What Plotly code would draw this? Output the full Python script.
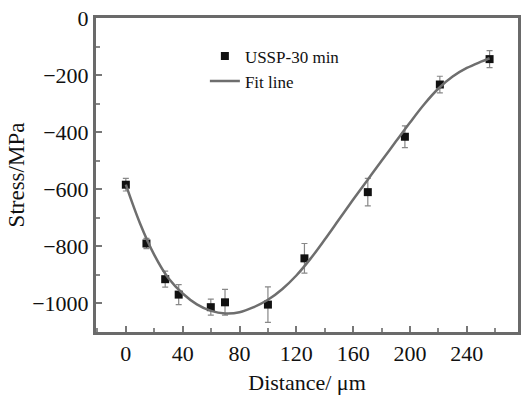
import plotly.graph_objects as go

# measured data
dist = [0, 14.5, 27.7, 37.2, 59.8, 69.8, 100, 125.7, 170.3, 196.4, 221, 256]
stress = [-584, -790, -915, -969, -1013, -996, -1004, -842, -610, -416, -233, -144]
err = [22, 18, 28, 35, 28, 45, 62, 52, 48, 38, 29, 30]

# fit line
fit_x = [0, 10, 20, 30, 40, 50, 60, 70, 80, 90, 100, 110, 120, 130, 140, 150, 160,
         170, 180, 190, 200, 210, 220, 230, 240, 250, 256]
fit_y = [-584, -720, -830, -912, -965, -1003, -1026, -1035, -1031, -1013, -987, -950,
         -902, -843, -776, -706, -636, -568, -500, -433, -366, -302, -247, -205, -175,
         -153, -141]

x_ticks = [0, 40, 80, 120, 160, 200, 240]
y_ticks = [0, -200, -400, -600, -800, -1000]

FONT = "Liberation Serif"

fig = go.Figure()
fig.add_trace(go.Scatter(
    x=dist, y=stress, mode="markers", name="USSP-30 min",
    marker=dict(symbol="square", size=8, color="#111111"),
    error_y=dict(type="data", array=err, visible=True, color="#888888", thickness=1.2, width=3),
))
fig.add_trace(go.Scatter(
    x=fit_x, y=fit_y, mode="lines", name="Fit line",
    line=dict(color="#6e6e6e", width=2.5, shape="spline", smoothing=1.0),
))

axis_common = dict(
    showline=True, linecolor="#6a6a6a", linewidth=3, mirror=True,
    ticks="inside", ticklen=6, tickwidth=2, tickcolor="#777777",
    showgrid=False, zeroline=False,
    tickfont=dict(family=FONT, size=22, color="#111111"),
)

fig.update_xaxes(
    range=[-21, 276], tickvals=x_ticks,
    minor=dict(dtick=20, ticks="inside", ticklen=4, tickwidth=2, tickcolor="#888888"),
    title=dict(text="Distance/ μm", font=dict(family=FONT, size=22, color="#111111"), standoff=10),
    **axis_common,
)
fig.update_yaxes(
    range=[-1100, 0], tickvals=y_ticks,
    minor=dict(dtick=100, ticks="inside", ticklen=4, tickwidth=2, tickcolor="#888888"),
    title=dict(text="Stress/MPa", font=dict(family=FONT, size=23, color="#111111"), standoff=2),
    **axis_common,
)

fig.update_layout(
    width=525, height=396,
    margin=dict(l=96, r=4, t=18, b=61),
    plot_bgcolor="white", paper_bgcolor="white",
    showlegend=True,
    legend=dict(x=0.258, y=0.935, xanchor="left", yanchor="top",
                bgcolor="rgba(0,0,0,0)", font=dict(family=FONT, size=17, color="#111111"),
                tracegroupgap=0),
)

fig.write_html("out.html", config={"displayModeBar": False},
               post_script="document.body.style.margin='0';document.body.style.overflow='hidden';")
